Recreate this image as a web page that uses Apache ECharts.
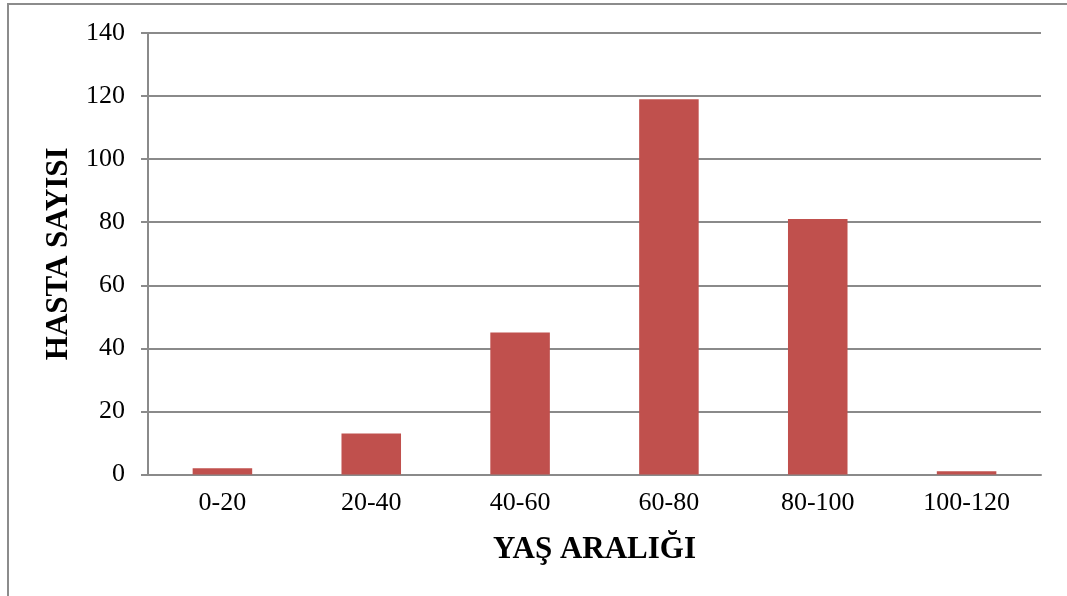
<!DOCTYPE html>
<html>
<head>
<meta charset="utf-8">
<script src="https://cdn.jsdelivr.net/npm/echarts@6/dist/echarts.min.js"></script>
<style>
  html, body { margin: 0; padding: 0; background: #fff; }
  #frame {
    position: absolute; left: 7px; top: 3px; right: 0; bottom: 0;
    border-left: 2px solid #8c8c8c; border-top: 2px solid #8c8c8c;
  }
  #chart { position: absolute; left: 0; top: 0; width: 1067px; height: 596px; }
</style>
</head>
<body>
<div id="frame"></div>
<div id="chart"></div>
<script>
// yaş aralıkları ve hasta sayıları
const categories = ['0-20', '20-40', '40-60', '60-80', '80-100', '100-120'];
const patients = [2, 13, 45, 119, 81, 1];
const yTicks = [0, 20, 40, 60, 80, 100, 120, 140];

const gray = '#8a8a8a';
const serif = "'Liberation Serif', 'DejaVu Serif', serif";

const chart = echarts.init(document.getElementById('chart'), null, { renderer: 'canvas' });
chart.setOption({
  animation: false,
  grid: { left: 148, right: 26, top: 33, bottom: 121.5 },
  xAxis: {
    type: 'category',
    data: categories,
    name: 'YAŞ ARALIĞI',
    nameLocation: 'middle',
    nameGap: 60,
    nameTextStyle: { fontFamily: serif, fontSize: 31, fontWeight: 'bold', color: '#000' },
    axisLine: { lineStyle: { color: gray, width: 2 } },
    axisTick: { show: false },
    axisLabel: { fontFamily: serif, fontSize: 26, color: '#000', margin: 16 }
  },
  yAxis: {
    type: 'value',
    min: yTicks[0],
    max: yTicks[yTicks.length - 1],
    interval: 20,
    name: 'HASTA SAYISI',
    nameLocation: 'middle',
    nameGap: 74,
    nameTextStyle: { fontFamily: serif, fontSize: 31, fontWeight: 'bold', color: '#000' },
    axisLine: { show: true, lineStyle: { color: gray, width: 2 } },
    axisTick: { show: true, length: 7, lineStyle: { color: gray, width: 2 } },
    axisLabel: { fontFamily: serif, fontSize: 26, color: '#000', margin: 23 },
    splitLine: { lineStyle: { color: gray, width: 2 } }
  },
  series: [{
    type: 'bar',
    data: patients,
    barWidth: '40%',
    itemStyle: { color: '#c0504d' }
  }]
});
</script>
</body>
</html>
